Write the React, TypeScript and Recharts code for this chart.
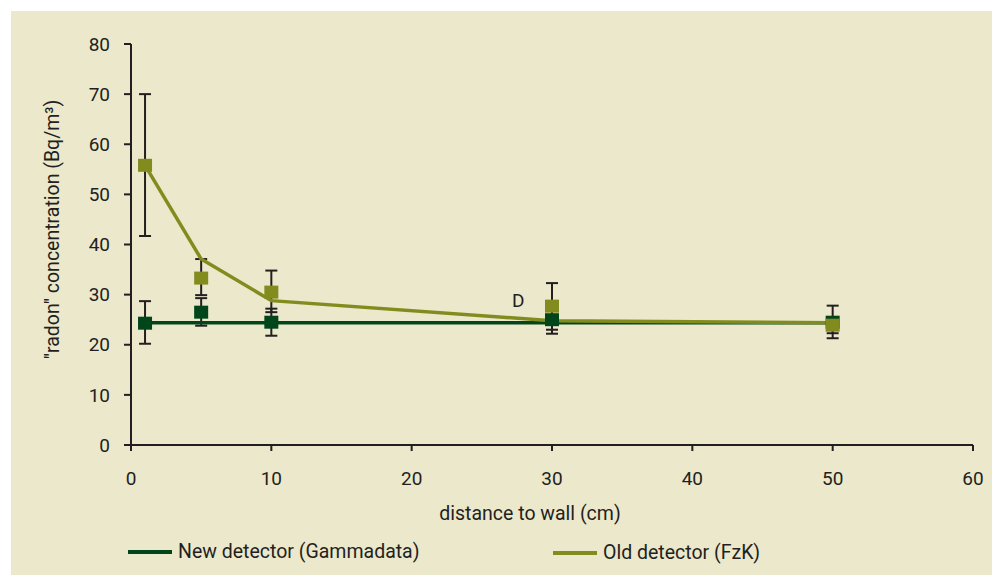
import React from 'react';
import {
  ScatterChart,
  Scatter,
  XAxis,
  YAxis,
  ErrorBar,
  ReferenceDot,
} from 'recharts';

// distance to wall (cm)
const distances = [1, 5, 10, 30, 50];

// New detector (Gammadata)
const newValues = [24.3, 26.5, 24.5, 25.0, 24.5];
const newLow = [20.2, 23.8, 21.8, 22.2, 21.3];
const newHigh = [28.7, 29.3, 27.2, 27.8, 27.8];
const newFit = [24.4, 24.4, 24.4, 24.4, 24.4];

// Old detector (FzK)
const oldValues = [55.8, 33.3, 30.5, 27.7, 23.9];
const oldLow = [41.7, 29.9, 26.5, 23.0, 22.3];
const oldHigh = [70.0, 37.1, 34.8, 32.3, 25.5];
const oldFit = [55.8, 37.1, 28.8, 24.8, 24.4];

const xTicks = [0, 10, 20, 30, 40, 50, 60];
const yTicks = [0, 10, 20, 30, 40, 50, 60, 70, 80];

const BG = '#ebe8cc';
const INK = '#231f20';
const NEW_COLOR = '#00461a';
const OLD_COLOR = '#828c1e';
const FONT = 'Roboto, sans-serif';
const FS = 19.5;
const TICK_FS = 19;

const points = (vals: number[], low?: number[], high?: number[]) =>
  distances.map((x, i) => ({
    x,
    y: vals[i],
    err: low && high ? [vals[i] - low[i], high[i] - vals[i]] : undefined,
  }));

const newPoints = points(newValues, newLow, newHigh);
const oldPoints = points(oldValues, oldLow, oldHigh);
const newLine = points(newFit);
const oldLine = points(oldFit);

const square = (color: string) => (props: any) => {
  const { cx, cy } = props;
  if (cx == null || cy == null) return <g />;
  return <rect x={cx - 7} y={cy - 6.5} width={14} height={13} fill={color} />;
};

const nothing = () => <g />;

export default function App() {
  return (
    <div style={{ position: 'fixed', left: 0, top: 0, width: 992, height: 575, background: '#fff', fontFamily: FONT }}>
      <div style={{ position: 'absolute', left: 11, top: 11, right: 0, bottom: 0, background: BG }} />
      <div style={{ position: 'absolute', left: 0, top: 0 }}>
        <ScatterChart width={992} height={575} margin={{ top: 44, right: 19, bottom: 100, left: 71 }}>
          <XAxis
            type="number"
            dataKey="x"
            domain={[0, 60]}
            ticks={xTicks}
            interval={0}
            height={30}
            tickSize={6}
            tickMargin={21}
            axisLine={{ stroke: INK, strokeWidth: 2 }}
            tickLine={{ stroke: INK, strokeWidth: 2 }}
            tick={{ fill: INK, fontSize: TICK_FS, fontFamily: FONT }}
            label={{
              value: 'distance to wall (cm)',
              position: 'bottom',
              offset: 31,
              dx: -22,
              fill: INK,
              fontSize: FS,
              fontFamily: FONT,
            }}
          />
          <YAxis
            type="number"
            dataKey="y"
            domain={[0, 80]}
            ticks={yTicks}
            interval={0}
            width={60}
            tickSize={7}
            tickMargin={14}
            axisLine={{ stroke: INK, strokeWidth: 2 }}
            tickLine={{ stroke: INK, strokeWidth: 2 }}
            tick={{ fill: INK, fontSize: TICK_FS, fontFamily: FONT }}
            label={{
              value: '"radon" concentration (Bq/m³)',
              angle: -90,
              position: 'insideLeft',
              dx: -24,
              dy: -15,
              fill: INK,
              fontSize: FS,
              fontFamily: FONT,
              style: { textAnchor: 'middle' },
            }}
          />
          <Scatter data={newPoints} shape={nothing} isAnimationActive={false}>
            <ErrorBar dataKey="err" direction="y" width={6} stroke={INK} strokeWidth={2} />
          </Scatter>
          <Scatter data={oldPoints} shape={nothing} isAnimationActive={false}>
            <ErrorBar dataKey="err" direction="y" width={6} stroke={INK} strokeWidth={2} />
          </Scatter>
          <Scatter data={newLine} line={{ stroke: NEW_COLOR, strokeWidth: 3.5 }} shape={nothing} isAnimationActive={false} />
          <Scatter data={oldLine} line={{ stroke: OLD_COLOR, strokeWidth: 3.5 }} shape={nothing} isAnimationActive={false} />
          <Scatter data={newPoints} shape={square(NEW_COLOR)} isAnimationActive={false} />
          <Scatter data={oldPoints} shape={square(OLD_COLOR)} isAnimationActive={false} />
          <ReferenceDot
            x={27.6}
            y={28.9}
            r={0}
            fill="none"
            stroke="none"
            label={{ value: 'D', position: 'center', fill: INK, fontSize: TICK_FS, fontFamily: FONT }}
          />
        </ScatterChart>
      </div>
      <div style={{ position: 'absolute', left: 128, top: 540, display: 'flex', alignItems: 'center', color: INK, fontSize: FS }}>
        <span style={{ display: 'inline-block', width: 44, height: 4, background: NEW_COLOR, marginRight: 6 }} />
        New detector (Gammadata)
      </div>
      <div style={{ position: 'absolute', left: 553, top: 541, display: 'flex', alignItems: 'center', color: INK, fontSize: FS }}>
        <span style={{ display: 'inline-block', width: 44, height: 4, background: OLD_COLOR, marginRight: 6 }} />
        Old detector (FzK)
      </div>
    </div>
  );
}
